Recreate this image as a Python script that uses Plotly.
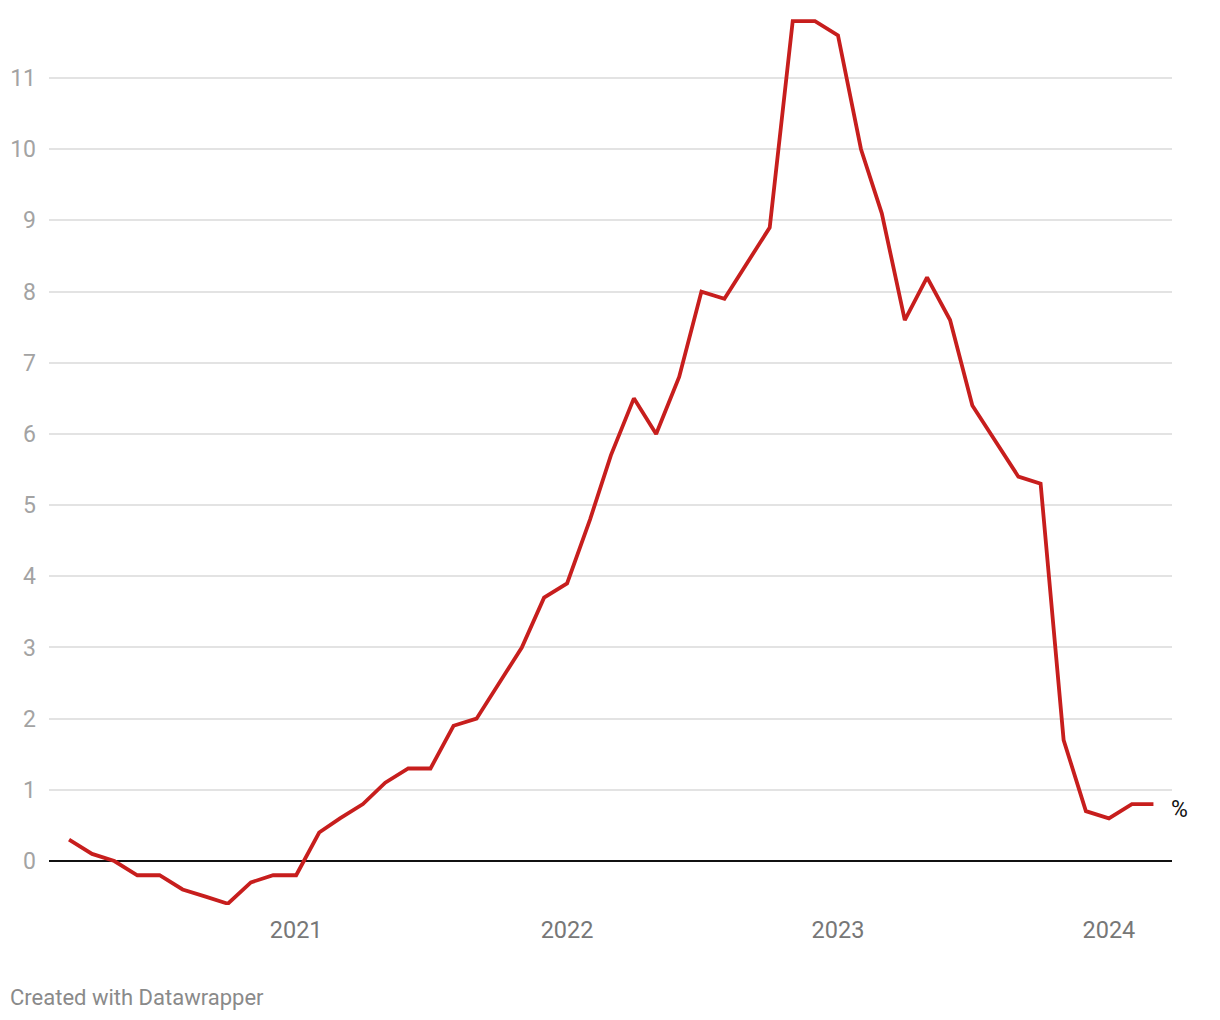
import plotly.graph_objects as go
import pandas as pd

# Monthly values, March 2020 – March 2024
months = pd.date_range("2020-03-01", "2024-03-01", freq="MS").strftime("%Y-%m-%d").tolist()
values = [
    0.3, 0.1, 0.0, -0.2, -0.2, -0.4, -0.5, -0.6, -0.3, -0.2,   # Mar–Dec 2020
    -0.2, 0.4, 0.6, 0.8, 1.1, 1.3, 1.3, 1.9, 2.0, 2.5, 3.0, 3.7,  # 2021
    3.9, 4.8, 5.7, 6.5, 6.0, 6.8, 8.0, 7.9, 8.4, 8.9, 11.8, 11.8,  # 2022
    11.6, 10.0, 9.1, 7.6, 8.2, 7.6, 6.4, 5.9, 5.4, 5.3, 1.7, 0.7,  # 2023
    0.6, 0.8, 0.8,                                                 # 2024
]
year_ticks = ["2021-01-01", "2022-01-01", "2023-01-01", "2024-01-01"]
year_labels = ["2021", "2022", "2023", "2024"]
y_ticks = list(range(0, 12))

FONT = "Roboto"
LINE = "#c71e1d"

fig = go.Figure()
fig.add_trace(go.Scatter(
    x=months, y=values, mode="lines",
    line=dict(color=LINE, width=3.8),
    hoverinfo="x+y", showlegend=False,
))

fig.add_annotation(
    x=months[-1], y=values[-1], xref="x", yref="y",
    text="%", showarrow=False, xanchor="left", yanchor="middle",
    xshift=16, yshift=-5,
    font=dict(family=FONT, size=23, color="#111111"),
)

fig.add_annotation(
    x=-0.0365, y=-0.1034, xref="paper", yref="paper",
    text="Created with Datawrapper", showarrow=False,
    xanchor="left", yanchor="middle",
    font=dict(family=FONT, size=22, color="#8a8a8a"),
)

fig.update_layout(
    width=1220, height=1020,
    margin=dict(l=41, r=56, t=7, b=123, autoexpand=False),
    paper_bgcolor="white", plot_bgcolor="white",
    font=dict(family=FONT),
    xaxis=dict(
        range=["2020-02-03", "2024-03-26"],
        tickvals=year_ticks, ticktext=year_labels,
        showgrid=False, zeroline=False, showline=False, ticks="",
        tickfont=dict(family=FONT, size=23.5, color="#777777"),
        ticklabelstandoff=8, automargin=False,
    ),
    yaxis=dict(
        range=[-0.618, 11.886],
        tickvals=y_ticks,
        showgrid=True, gridcolor="#e3e3e3", gridwidth=1.5,
        zeroline=True, zerolinecolor="#111111", zerolinewidth=2,
        showline=False, ticks="",
        tickfont=dict(family=FONT, size=23, color="#a3a3a3"),
        ticklabelstandoff=12, automargin=False,
    ),
)

fig.write_html("out.html")
